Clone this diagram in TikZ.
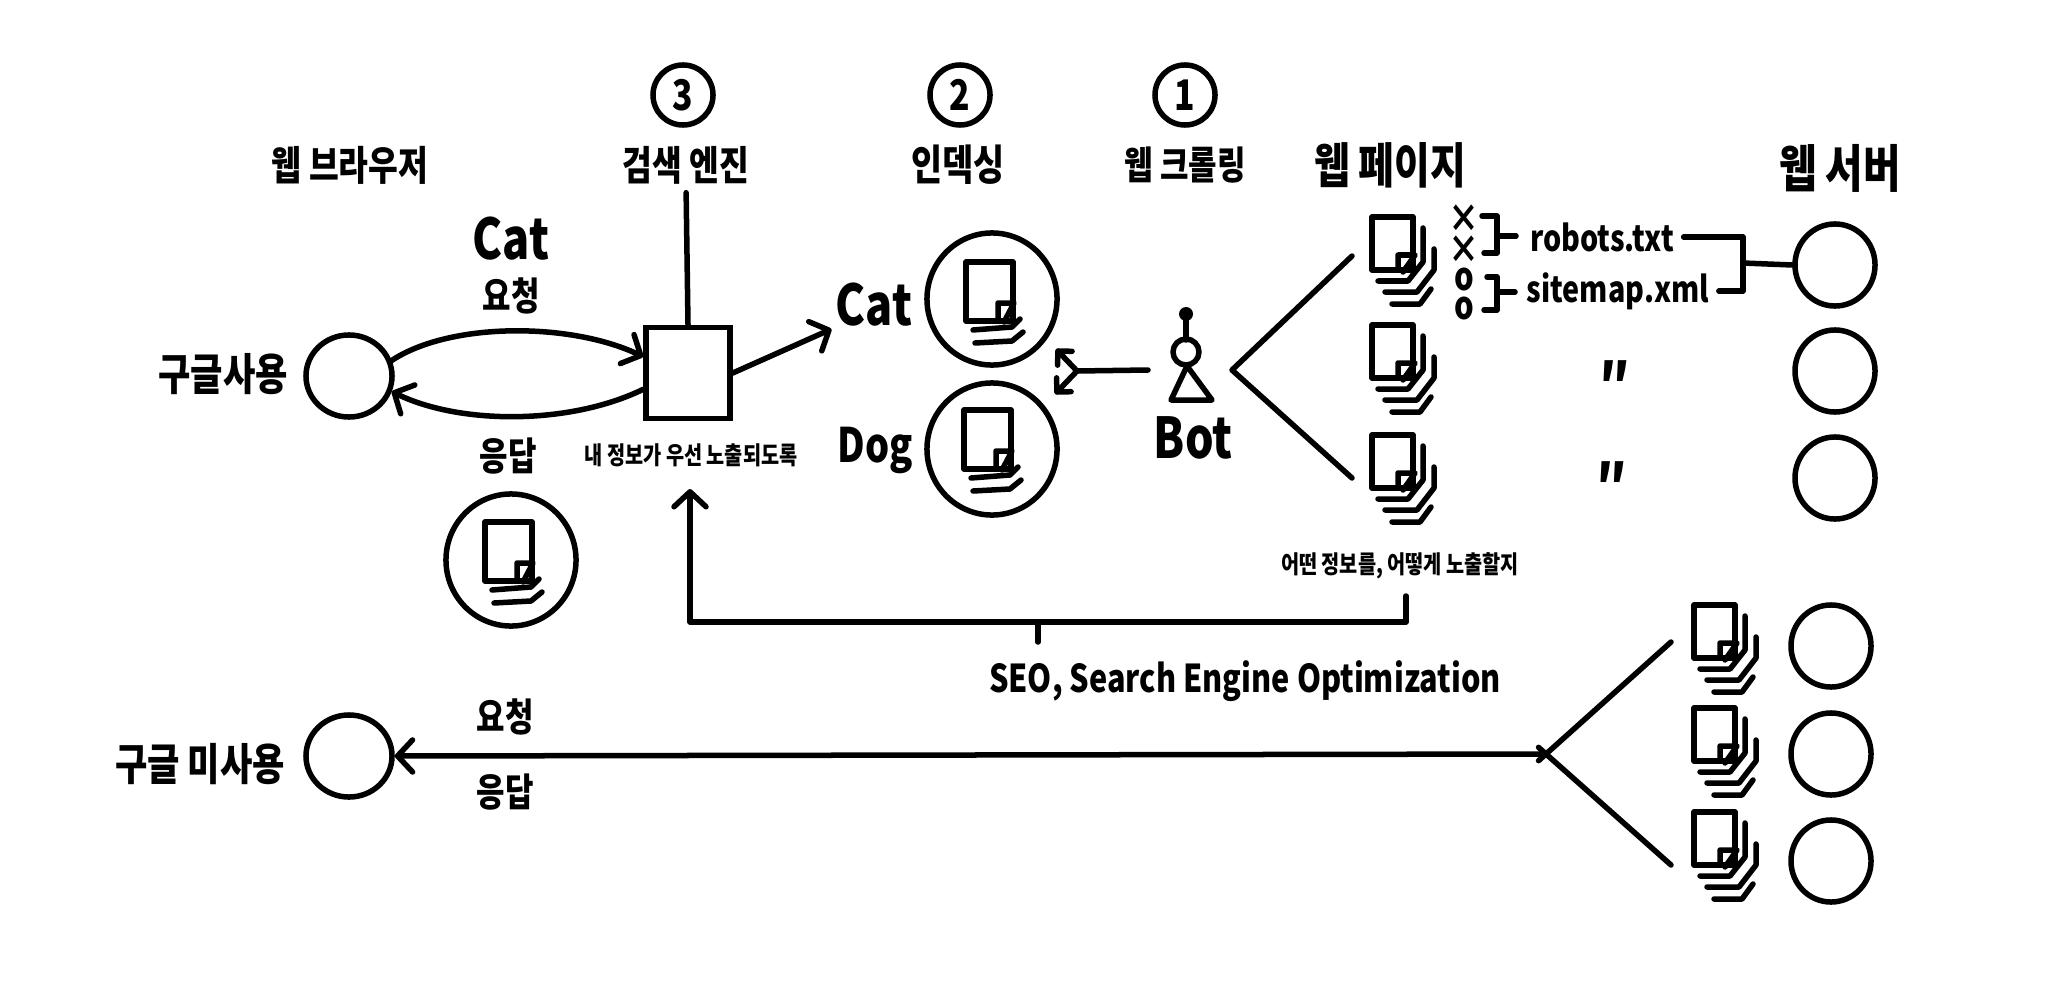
\documentclass[tikz,border=0pt]{standalone}
\usepackage{fontspec}
\setmainfont{Noto Sans CJK KR}[FakeStretch=0.8]
\usetikzlibrary{shapes.geometric, arrows.meta, positioning, calc}
\tikzset{
  line/.style={line width=0.055cm, color=black, line cap=round, line join=round},
  arrow/.style={line, -{Straight Barb[length=0.15cm, width=0.32cm, round]}},
  forkarrow/.style={line, -{Straight Barb[length=0.1cm, width=0.2cm, round]}},
  hostnode/.style={ellipse, draw=black, line width=0.055cm, minimum width=0.8cm, minimum height=0.82cm, inner sep=0pt},
  usernode/.style={ellipse, draw=black, line width=0.055cm, minimum width=0.86cm, minimum height=0.82cm, inner sep=0pt},
  indexnode/.style={ellipse, draw=black, line width=0.055cm, minimum width=1.3cm, minimum height=1.32cm, inner sep=0pt},
  stepnode/.style={ellipse, draw=black, line width=0.055cm, minimum width=0.6cm, minimum height=0.6cm, inner sep=0pt, font=\fontsize{12}{14}\selectfont\bfseries},
  headlabel/.style={inner sep=0pt, align=center, font=\fontsize{12}{14}\selectfont\bfseries},
  userlabel/.style={inner sep=0pt, align=center, font=\fontsize{12.5}{14}\selectfont\bfseries},
  replylabel/.style={inner sep=0pt, align=center, font=\fontsize{11}{13}\selectfont\bfseries},
  smalllabel/.style={inner sep=0pt, align=center, font=\fontsize{7}{9}\selectfont\bfseries},
  wordlabel/.style={inner sep=0pt, align=center, font=\fontsize{16}{18}\selectfont\bfseries},
  filelabel/.style={inner sep=0pt, align=center, font=\fontsize{10.2}{12}\selectfont\bfseries},
  marklabel/.style={inner sep=0pt, align=center, font=\fontsize{11}{13}\selectfont\bfseries},
  dittolabel/.style={inner sep=0pt, font=\fontsize{17}{19}\selectfont\bfseries},
  pics/docstack/.style={code={
    \draw[line] (0,0) rectangle (41,53);
    \draw[line] (26,53) -- (26,38) -- (43,38) -- (31,55);
    \draw[line] (6,64) -- (36,64) -- (51,45) -- (51,11);
    \draw[line] (13,75) -- (45,75) -- (62,53) -- (62,32);
    \draw[line] (20,87) -- (48,87) -- (59,72);
  }},
  pics/docsingle/.style={code={
    \draw[line] (0,0) rectangle (47,59);
    \draw[line] (32,59) -- (32,41) -- (48,41) -- (38,60);
    \draw[line] (7,68) -- (46,65) -- (54,57);
    \draw[line] (9,81) -- (46,79) -- (57,70);
  }}
}
\begin{document}
\begin{tikzpicture}[x=0.01cm, y=-0.01cm]
  \useasboundingbox (0,0) rectangle (2055,988);

  \node[headlabel, font=\fontsize{11.5}{14}\selectfont\bfseries] (browserlabel) at (350,165) {웹 브라우저};
  \node[headlabel, font=\fontsize{11.5}{14}\selectfont\bfseries] (enginelabel) at (686,165) {검색 엔진};
  \node[headlabel] (indexlabel) at (958,165) {인덱싱};
  \node[headlabel, font=\fontsize{11}{14}\selectfont\bfseries] (crawllabel) at (1185,165) {웹 크롤링};
  \node[headlabel, font=\fontsize{13.8}{16}\selectfont\bfseries] (pagelabel) at (1390,165) {웹 페이지};
  \node[headlabel, font=\fontsize{14.5}{16}\selectfont\bfseries] (serverlabel) at (1840,168) {웹 서버};
  \node[stepnode] (stepthree) at (683,95) {3};
  \node[stepnode] (steptwo) at (960,95) {2};
  \node[stepnode] (stepone) at (1185,95) {1};

  \node[userlabel] (googlelabel) at (223,374) {구글사용};
  \node[usernode] (googleuser) at (349,376) {};
  \node[wordlabel] (catquery) at (511,239) {Cat};
  \node[replylabel] (askone) at (511,296) {요청};
  \node[replylabel] (replyone) at (508,456) {응답};
  \node[rectangle, draw=black, line width=0.055cm, minimum width=0.84cm, minimum height=0.91cm] (engine) at (688,373) {};
  \node[smalllabel] (ranknote) at (691,455) {내 정보가 우선 노출되도록};
  \node[indexnode] (replydoc) at (511,560) {};
  \pic at (485,522) {docsingle};

  \draw[arrow] (googleuser.20) .. controls (450,322) and (570,322) .. (engine.160);
  \draw[arrow] (engine.200) .. controls (570,425) and (460,425) .. (googleuser.-20);
  \draw[line, shorten >=0.08cm] (engine.north) -- (enginelabel.south);
  \node[wordlabel] (catword) at (874,305) {Cat};
  \node[wordlabel, font=\fontsize{13.5}{15}\selectfont\bfseries] (dogword) at (875,450) {Dog};
  \draw[arrow, shorten >=0.04cm] (engine.east) -- (catword.south west);

  \node[indexnode] (indexcat) at (992,299) {};
  \node[indexnode] (indexdog) at (992,449) {};
  \pic at (966,262) {docsingle};
  \pic at (964,410) {docsingle};

  \coordinate (botarm) at (1148,370);
  \coordinate (botfork) at (1077,371);
  \coordinate (toindexcat) at (1056,349);
  \coordinate (toindexdog) at (1055,394);
  \draw[line] (botarm) -- (botfork);
  \draw[forkarrow] (botfork) -- (toindexcat);
  \draw[forkarrow] (botfork) -- (toindexdog);

  \fill (1186,314) circle (7);
  \draw[line] (1186,314) -- (1186,340);
  \draw[line] (1186,352) circle (13);
  \draw[line] (1187,366) -- (1212,400) -- (1171,400) -- cycle;
  \node[wordlabel] (botword) at (1193,438) {Bot};

  \coordinate (crawlfork) at (1232,370);
  \coordinate (crawltop) at (1352,256);
  \coordinate (crawlbottom) at (1352,478);
  \draw[line] (crawltop) -- (crawlfork) -- (crawlbottom);
  \foreach \yy in {217,325,435}
    \pic at (1372,\yy) {docstack};

  \node[marklabel] (denyone) at (1464,219) {×};
  \node[marklabel] (denytwo) at (1464,250) {×};
  \node[marklabel] (allowone) at (1464,279) {o};
  \node[marklabel] (allowtwo) at (1464,308) {o};
  \draw[line] (1482,216) -- (1497,216) -- (1497,253) -- (1484,253);
  \draw[line] (1487,277) -- (1497,277) -- (1497,310) -- (1484,310);
  \coordinate (robotsbrk) at (1497,236);
  \coordinate (sitemapbrk) at (1497,292);
  \node[filelabel] (robots) at (1602,237) {robots.txt};
  \node[filelabel] (sitemap) at (1618,291) {sitemap.xml};
  \draw[line] (robotsbrk) -- ++(19,0);
  \draw[line] (sitemapbrk) -- ++(18,0);

  \node[hostnode] (serverone) at (1835,265) {};
  \node[hostnode] (servertwo) at (1835,371) {};
  \node[hostnode] (serverthree) at (1835,478) {};
  \coordinate (serverjoin) at (1743,263);
  \draw[line, shorten <=0.09cm] (robots.east) -| (serverjoin);
  \draw[line, shorten <=0.09cm] (sitemap.east) -| (serverjoin);
  \draw[line] (serverjoin) -- (serverone.west);
  \node[dittolabel] (dittoone) at (1615,384) {″};
  \node[dittolabel] (dittotwo) at (1612,485) {″};

  \node[smalllabel] (hownote) at (1400,566) {어떤 정보를, 어떻게 노출할지};
  \coordinate (seostart) at (1406,596);
  \coordinate (seocorner) at (1406,622);
  \coordinate (seotip) at (690,489);
  \draw[arrow] (seostart) -- (seocorner) -| (seotip);
  \node[filelabel, font=\fontsize{10.9}{13}\selectfont\bfseries] (seolabel) at (1245,681) {SEO, Search Engine Optimization};
  \draw[line] (1038,642) -- (1038,622);

  \node[userlabel] (nogooglelabel) at (200,764) {구글 미사용};
  \node[usernode] (nogoogleuser) at (349,756) {};
  \node[replylabel] (asktwo) at (505,717) {요청};
  \node[replylabel] (replytwo) at (505,792) {응답};
  \coordinate (hub) at (1546,754);
  \coordinate (hubtop) at (1671,642);
  \coordinate (hubbottom) at (1671,865);
  \draw[arrow] (hub) -- (nogoogleuser.east);
  \draw[line, shorten <=-0.1cm] (hub) -- (hubtop);
  \draw[line, shorten <=-0.1cm] (hub) -- (hubbottom);
  \foreach \yy in {605,708,812}
    \pic at (1694,\yy) {docstack};
  \node[hostnode] (farone) at (1831,646) {};
  \node[hostnode] (fartwo) at (1831,754) {};
  \node[hostnode] (farthree) at (1831,861) {};
\end{tikzpicture}
\end{document}
